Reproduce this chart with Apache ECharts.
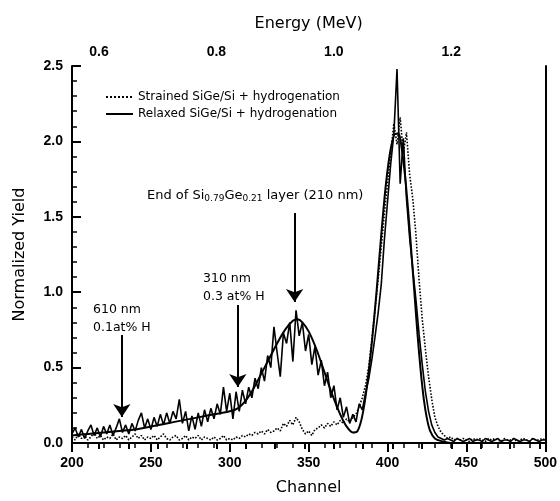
<!DOCTYPE html>
<html><head><meta charset="utf-8">
<script src="https://cdn.jsdelivr.net/npm/echarts@6/dist/echarts.min.js"></script>
<style>html,body{margin:0;padding:0;background:#fff}#c{width:560px;height:501px}</style>
</head><body><div id="c"></div>
<script>
const channels=[200,202,204,206,208,210,212,214,216,218,220,222,224,226,228,230,232,234,236,238,240,242,244,246,248,250,252,254,256,258,260,262,264,266,268,270,272,274,276,278,280,282,284,286,288,290,292,294,296,298,300,302,304,306,308,310,312,314,316,318,320,322,324,326,328,330,332,334,336,338,340,342,344,346,348,350,352,354,356,358,360,362,364,366,368,370,372,374,376,378,380,382,384,386,388,390,392,394,396,398,400,402,404,406,408,410,412,414,416,418,420,422,424,426,428,430,432,434,436,438,440,442,444,446,448,450,452,454,456,458,460,462,464,466,468,470,472,474,476,478,480,482,484,486,488,490,492,494,496,498,500];
const strained=[0.04,0.02,0.06,0.03,0.05,0.02,0.04,0.07,0.03,0.05,0.02,0.04,0.03,0.06,0.02,0.04,0.03,0.05,0.02,0.04,0.06,0.03,0.05,0.02,0.04,0.03,0.05,0.02,0.04,0.06,0.03,0.02,0.04,0.05,0.02,0.03,0.05,0.02,0.04,0.03,0.05,0.02,0.04,0.03,0.02,0.04,0.02,0.03,0.05,0.02,0.03,0.02,0.04,0.03,0.05,0.04,0.06,0.05,0.07,0.06,0.08,0.06,0.09,0.07,0.08,0.10,0.08,0.13,0.11,0.15,0.12,0.17,0.14,0.09,0.06,0.08,0.05,0.09,0.10,0.12,0.10,0.13,0.11,0.14,0.12,0.15,0.13,0.16,0.14,0.17,0.19,0.24,0.30,0.38,0.50,0.68,0.88,1.08,1.30,1.52,1.72,1.92,2.12,1.98,2.16,1.92,2.06,1.78,1.62,1.38,1.08,0.82,0.62,0.44,0.29,0.17,0.11,0.07,0.05,0.03,0.04,0.02,0.03,0.02,0.03,0.02,0.01,0.03,0.02,0.03,0.02,0.01,0.03,0.02,0.03,0.02,0.01,0.03,0.02,0.02,0.03,0.01,0.02,0.03,0.02,0.01,0.03,0.02,0.02,0.03,0.02];
const relaxed=[0.06,0.10,0.04,0.09,0.03,0.08,0.12,0.05,0.10,0.04,0.11,0.06,0.12,0.05,0.10,0.16,0.07,0.12,0.06,0.13,0.08,0.15,0.20,0.10,0.16,0.09,0.17,0.11,0.19,0.12,0.20,0.13,0.21,0.16,0.29,0.13,0.21,0.08,0.18,0.09,0.20,0.11,0.22,0.14,0.23,0.16,0.26,0.19,0.37,0.21,0.33,0.16,0.34,0.21,0.35,0.26,0.37,0.30,0.43,0.36,0.50,0.41,0.58,0.50,0.77,0.60,0.44,0.73,0.66,0.80,0.54,0.88,0.71,0.80,0.61,0.72,0.52,0.64,0.45,0.55,0.38,0.47,0.30,0.38,0.22,0.30,0.17,0.24,0.13,0.19,0.14,0.26,0.22,0.33,0.42,0.55,0.70,0.86,1.05,1.35,1.60,1.85,2.05,2.48,1.72,2.02,1.62,1.36,1.15,0.95,0.72,0.52,0.34,0.21,0.12,0.07,0.04,0.03,0.02,0.03,0.02,0.01,0.03,0.02,0.01,0.02,0.03,0.01,0.02,0.02,0.01,0.03,0.02,0.01,0.02,0.03,0.01,0.02,0.02,0.01,0.03,0.02,0.01,0.02,0.02,0.01,0.03,0.02,0.01,0.02,0.02];
const fitChannels=[200,210,220,230,240,250,260,270,280,290,300,305,310,315,320,325,330,335,340,343,346,350,355,360,365,370,374,378,381,384,387,390,393,396,399,402,405,407,409,411,413,415,417,419,421,423,425,427,430,435,440,470,500];
const fitValues=[0.05,0.06,0.07,0.08,0.09,0.11,0.13,0.15,0.17,0.19,0.21,0.23,0.28,0.36,0.46,0.56,0.66,0.75,0.81,0.82,0.80,0.74,0.62,0.47,0.32,0.19,0.11,0.07,0.08,0.18,0.38,0.66,1.00,1.38,1.72,1.95,2.05,2.05,1.95,1.78,1.55,1.28,1.00,0.72,0.48,0.29,0.16,0.08,0.03,0.01,0.0,0.0,0.0];
const energyTicks=[0.6,0.65,0.7,0.75,0.8,0.85,0.9,0.95,1.0,1.05,1.1,1.15,1.2,1.25,1.3,1.35];
const energyLabels=[0.6,0.8,1.0,1.2];
const arrows=[[231.6,0.716,231.6,0.172],[305.1,0.915,305.1,0.371],[341.1,1.525,341.1,0.935]];
const seriesNames=['Strained SiGe/Si + hydrogenation','Relaxed SiGe/Si + hydrogenation'];

const zip=(xs,ys)=>xs.map((x,i)=>[x,ys[i]]);
const numFont="'Liberation Sans', Arial, sans-serif";
const txtFont="'DejaVu Sans', sans-serif";
const chart=echarts.init(document.getElementById('c'),null,{renderer:'canvas'});
const axisLine={show:true,lineStyle:{color:'#000',width:2}};
chart.setOption({
  animation:false,
  backgroundColor:'#fff',
  color:['#000','#000','#000'],
  grid:{left:72,right:14,top:66,bottom:58},
  legend:{data:seriesNames,orient:'vertical',left:100,top:86,itemWidth:27,itemHeight:12,itemGap:5,
    itemStyle:{opacity:0},
    textStyle:{fontFamily:txtFont,fontSize:12,color:'#000'}},
  xAxis:[
    {type:'value',min:200,max:500,interval:50,position:'bottom',
     axisLine:axisLine,splitLine:{show:false},
     axisTick:{inside:false,length:9,lineStyle:{color:'#000',width:2}},
     minorTick:{show:true,splitNumber:5,length:5,lineStyle:{color:'#000',width:1.5}},
     axisLabel:{color:'#000',fontFamily:numFont,fontWeight:'bold',fontSize:14,margin:13},
     name:'Channel',nameLocation:'middle',nameGap:37,
     nameTextStyle:{fontFamily:txtFont,fontSize:16,color:'#000'}},
    {type:'value',min:0.5541,max:1.3602,position:'top',
     axisLine:axisLine,splitLine:{show:false},
     axisTick:{inside:true,length:6,customValues:energyTicks,lineStyle:{color:'#000',width:2}},
     axisLabel:{customValues:energyLabels,formatter:v=>v.toFixed(1),color:'#000',fontFamily:numFont,fontWeight:'bold',fontSize:14,margin:7},
     name:'Energy (MeV)',nameLocation:'middle',nameGap:34,
     nameTextStyle:{fontFamily:txtFont,fontSize:16,color:'#000'}}
  ],
  yAxis:[
    {type:'value',min:0,max:2.5,interval:0.5,position:'left',
     axisLine:axisLine,splitLine:{show:false},
     axisTick:{inside:true,length:9,lineStyle:{color:'#000',width:2}},
     minorTick:{show:true,splitNumber:5,length:5,lineStyle:{color:'#000',width:1.5}},
     axisLabel:{formatter:v=>v.toFixed(1),color:'#000',fontFamily:numFont,fontWeight:'bold',fontSize:14,margin:9},
     name:'Normalized Yield',nameLocation:'middle',nameGap:44,nameRotate:90,
     nameTextStyle:{fontFamily:txtFont,fontSize:16,color:'#000'}},
    {type:'value',min:0,max:2.5,position:'right',axisLine:axisLine,axisTick:{show:false},axisLabel:{show:false},splitLine:{show:false}}
  ],
  series:[
    {name:seriesNames[0],type:'line',data:zip(channels,strained),showSymbol:false,symbol:'none',
     itemStyle:{color:'#000'},lineStyle:{color:'#000',width:1.6,type:'dotted'},z:2},
    {name:seriesNames[1],type:'line',data:zip(channels,relaxed),showSymbol:false,symbol:'none',
     itemStyle:{color:'#000'},lineStyle:{color:'#000',width:1.6},z:3,
     markLine:{silent:true,symbol:['none','arrow'],symbolSize:13,
       itemStyle:{color:'#000'},
       lineStyle:{color:'#000',width:2,type:'solid'},label:{show:false},
       data:arrows.map(a=>[{coord:[a[0],a[1]]},{coord:[a[2],a[3]]}])}},
    {name:'fit',type:'line',data:zip(fitChannels,fitValues),showSymbol:false,symbol:'none',smooth:0.3,
     itemStyle:{color:'#000'},lineStyle:{color:'#000',width:2},z:4}
  ],
  graphic:[
    {type:'text',left:147,top:189,style:{text:'End of Si{s|0.79}Ge{s|0.21} layer (210 nm)',fontFamily:txtFont,fontSize:13,fill:'#000',
      rich:{s:{fontFamily:txtFont,fontSize:9,fill:'#000',padding:[7,0,0,0]}}}},
    {type:'text',left:203,top:270,style:{text:'310 nm\n0.3 at% H',fontFamily:txtFont,fontSize:12.5,lineHeight:18,fill:'#000'}},
    {type:'text',left:93,top:301,style:{text:'610 nm\n0.1at% H',fontFamily:txtFont,fontSize:12.5,lineHeight:18,fill:'#000'}}
  ]
});
</script></body></html>
